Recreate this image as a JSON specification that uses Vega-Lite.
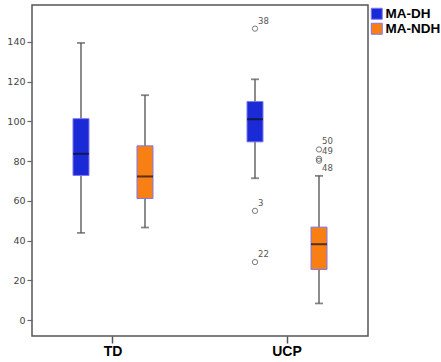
{
  "$schema": "https://vega.github.io/schema/vega-lite/v6.json",
  "width": 336,
  "height": 331,
  "autosize": "none",
  "padding": {"left": 32, "top": 5, "right": 73, "bottom": 26},
  "background": "white",
  "config": {
    "view": {"stroke": "#555555", "strokeWidth": 1.5},
    "font": "DejaVu Sans"
  },
  "datasets": {
    "boxes": [
      {"group": "TD", "hand": "MA-DH", "lower": 43.9, "q1": 72.8, "median": 83.7, "q3": 101.4, "upper": 139.5},
      {"group": "TD", "hand": "MA-NDH", "lower": 46.6, "q1": 61.2, "median": 72.3, "q3": 87.7, "upper": 113.2},
      {"group": "UCP", "hand": "MA-DH", "lower": 71.4, "q1": 89.7, "median": 101.1, "q3": 110.0, "upper": 121.2},
      {"group": "UCP", "hand": "MA-NDH", "lower": 8.4, "q1": 25.5, "median": 38.2, "q3": 46.8, "upper": 72.6}
    ],
    "outliers": [
      {"group": "UCP", "hand": "MA-DH", "value": 146.7, "case": "38"},
      {"group": "UCP", "hand": "MA-DH", "value": 55.0, "case": "3"},
      {"group": "UCP", "hand": "MA-DH", "value": 29.2, "case": "22"},
      {"group": "UCP", "hand": "MA-NDH", "value": 85.9, "case": "50"},
      {"group": "UCP", "hand": "MA-NDH", "value": 81.2, "case": "49"},
      {"group": "UCP", "hand": "MA-NDH", "value": 80.2, "case": "48"}
    ]
  },
  "encoding": {
    "x": {
      "field": "group",
      "type": "nominal",
      "title": null,
      "scale": {"paddingInner": 0.069, "paddingOuter": 0},
      "axis": {
        "domain": false,
        "tickColor": "#555555",
        "tickWidth": 1.5,
        "tickSize": 7,
        "labelAngle": 0,
        "labelFont": "Liberation Sans",
        "labelFontSize": 14,
        "labelFontWeight": "bold",
        "labelColor": "#000000",
        "labelPadding": 1
      }
    },
    "xOffset": {
      "field": "hand",
      "type": "nominal",
      "scale": {"paddingInner": 0.75, "paddingOuter": 0.6406}
    }
  },
  "layer": [
    {
      "data": {"name": "boxes"},
      "mark": {"type": "rule", "color": "#666666", "strokeWidth": 1.5},
      "encoding": {
        "y": {
          "field": "lower",
          "type": "quantitative",
          "title": null,
          "scale": {"domain": [-8, 158.6], "nice": false, "zero": false},
          "axis": {
            "values": [0, 20, 40, 60, 80, 100, 120, 140],
            "domain": false,
            "grid": false,
            "tickColor": "#666666",
            "tickSize": 5,
            "tickWidth": 1.2,
            "labelFontSize": 9.5,
            "labelColor": "#444444",
            "labelPadding": 2
          }
        },
        "y2": {"field": "upper"}
      }
    },
    {
      "data": {"name": "boxes"},
      "mark": {"type": "tick", "color": "#555555", "size": 8, "thickness": 1.8},
      "encoding": {"y": {"field": "lower", "type": "quantitative"}}
    },
    {
      "data": {"name": "boxes"},
      "mark": {"type": "tick", "color": "#555555", "size": 8, "thickness": 1.8},
      "encoding": {"y": {"field": "upper", "type": "quantitative"}}
    },
    {
      "data": {"name": "boxes"},
      "mark": {"type": "bar", "size": 16, "strokeWidth": 1, "stroke": "#7f78f0"},
      "encoding": {
        "y": {"field": "q1", "type": "quantitative"},
        "y2": {"field": "q3"},
        "color": {
          "field": "hand",
          "type": "nominal",
          "title": null,
          "scale": {"domain": ["MA-DH", "MA-NDH"], "range": ["#1a2ad6", "#f77f14"]},
          "legend": {
            "orient": "none",
            "legendX": 338,
            "legendY": 2,
            "symbolType": "square",
            "symbolSize": 121,
            "symbolStrokeColor": "#7f78f0",
            "symbolStrokeWidth": 1,
            "symbolOpacity": 1,
            "labelFont": "Liberation Sans",
            "labelFontSize": 13.5,
            "labelFontWeight": "bold",
            "labelColor": "#000000",
            "labelOffset": 2,
            "rowPadding": -2
          }
        }
      }
    },
    {
      "data": {"name": "boxes"},
      "mark": {"type": "tick", "color": "#111111", "size": 16, "thickness": 2},
      "encoding": {"y": {"field": "median", "type": "quantitative"}}
    },
    {
      "data": {"name": "outliers"},
      "mark": {"type": "point", "shape": "circle", "filled": false, "size": 28, "stroke": "#444444", "strokeWidth": 1},
      "encoding": {"y": {"field": "value", "type": "quantitative"}}
    },
    {
      "data": {"name": "outliers"},
      "transform": [{"filter": "datum.case !== '48'"}],
      "mark": {"type": "text", "align": "left", "baseline": "middle", "dx": 3, "dy": -8, "fontSize": 8.5, "color": "#555555"},
      "encoding": {
        "y": {"field": "value", "type": "quantitative"},
        "text": {"field": "case"}
      }
    },
    {
      "data": {"name": "outliers"},
      "transform": [{"filter": "datum.case === '48'"}],
      "mark": {"type": "text", "align": "left", "baseline": "middle", "dx": 3, "dy": 7, "fontSize": 8.5, "color": "#555555"},
      "encoding": {
        "y": {"field": "value", "type": "quantitative"},
        "text": {"field": "case"}
      }
    }
  ]
}
